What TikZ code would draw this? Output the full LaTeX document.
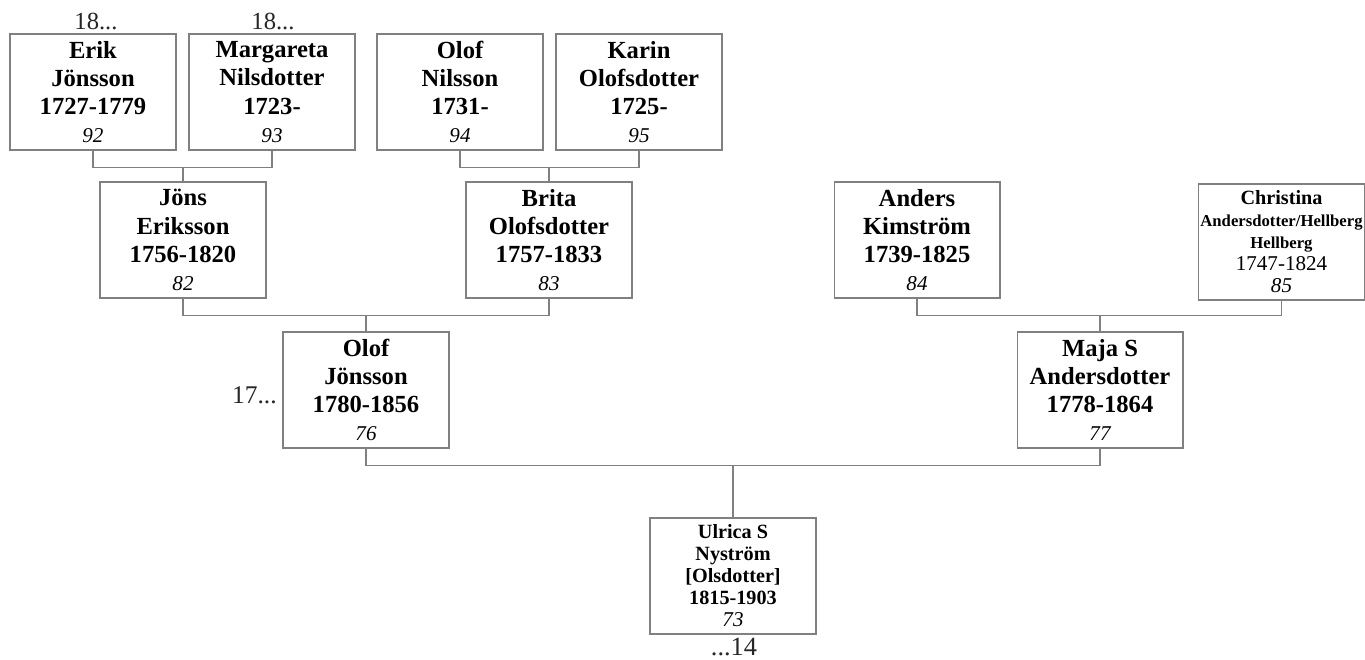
\documentclass[tikz,border=0pt]{standalone}
\usepackage{fontspec}
\setmainfont{Liberation Serif}
\usetikzlibrary{positioning}
\definecolor{linegray}{RGB}{128,128,128}
\newcommand{\pnum}[1]{{\mdseries\itshape\fontsize{12}{13}\selectfont #1}}
\newcommand{\smallname}[1]{{\fontsize{9.5}{11}\selectfont #1}}

\begin{document}
\begin{tikzpicture}[x=0.02cm,y=0.02cm]
          \useasboundingbox (0,0) rectangle (1365,-659);
          \begin{scope}[every node/.style={rectangle,draw=linegray,line width=0.6pt,minimum width=3.32cm,minimum height=2.32cm,inner sep=0pt,align=center,font=\bfseries\fontsize{14}{16}\selectfont}]
            \node (erik) at (93,-92) {Erik\\Jönsson\\1727-1779\\\pnum{92}};
            \node (marg) at (272,-92) {Margareta\\Nilsdotter\\1723-\\\pnum{93}};
            \node (olofn) at (460,-92) {Olof\\Nilsson\\1731-\\\pnum{94}};
            \node (karin) at (639,-92) {Karin\\Olofsdotter\\1725-\\\pnum{95}};
            \node (jons) at (183,-240) {Jöns\\Eriksson\\1756-1820\\\pnum{82}};
            \node (brita) at (549,-240) {Brita\\Olofsdotter\\1757-1833\\\pnum{83}};
            \node (anders) at (917,-240) {Anders\\Kimström\\1739-1825\\\pnum{84}};
            \node (christina) [font=\bfseries\fontsize{11.5}{12.5}\selectfont] at (1281.5,-242) {Christina\\\smallname{Andersdotter/Hellberg}\\\smallname{Hellberg}\\{\mdseries\fontsize{12}{12.5}\selectfont 1747-1824}\\\pnum{85}};
            \node (olofj) at (366,-390) {Olof\\Jönsson\\1780-1856\\\pnum{76}};
            \node (maja) at (1100,-390) {Maja S\\Andersdotter\\1778-1864\\\pnum{77}};
            \node (ulrica) [font=\bfseries\fontsize{11.5}{12.5}\selectfont] at (733,-576) {Ulrica S\\Nyström\\{[Olsdotter]}\\1815-1903\\\pnum{73}};
          \end{scope}
          \begin{scope}[every node/.style={text=black!85,font=\fontsize{14}{16}\selectfont}]
            \node (erikup) at (96,-21) {18...};
            \node (margup) at (273,-21) {18...};
            \node (olofjleft) [anchor=east,inner sep=0pt,font=\fontsize{14.5}{17}\selectfont] at (277,-395) {17...};
            \node (ulricadown) [font=\fontsize{15}{17}\selectfont] at (734,-647) {...14};
          \end{scope}
          \begin{scope}[draw=linegray,line width=0.6pt]
            \draw (erik.south) -- ++(0,-17) coordinate (b1) -| (marg.south);
            \draw (jons.north) -- (jons.north |- b1);
            \draw (olofn.south) -- ++(0,-17) coordinate (b2) -| (karin.south);
            \draw (brita.north) -- (brita.north |- b2);
            \draw (jons.south) -- ++(0,-17) coordinate (b3) -| (brita.south);
            \draw (olofj.north) -- (olofj.north |- b3);
            \draw (anders.south) -- ++(0,-17) coordinate (b4) -| (christina.south);
            \draw (maja.north) -- (maja.north |- b4);
            \draw (olofj.south) -- ++(0,-17) coordinate (b5) -| (maja.south);
            \draw (ulrica.north) -- (ulrica.north |- b5);
          \end{scope}
        \end{tikzpicture}
\end{document}
